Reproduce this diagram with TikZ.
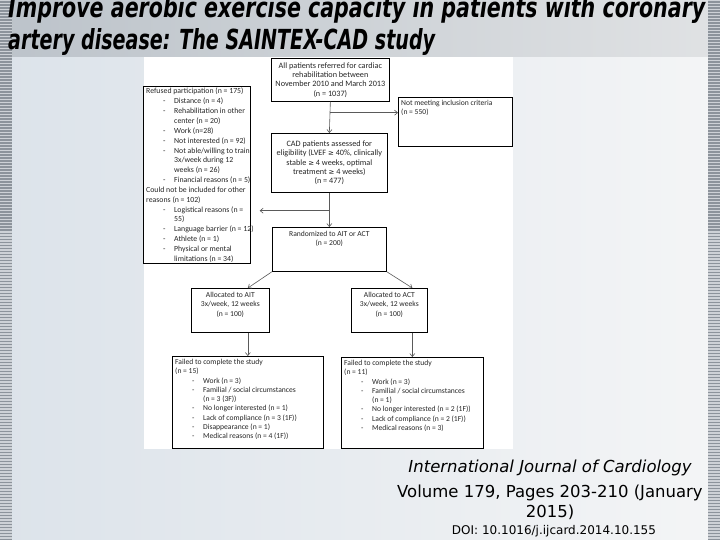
\documentclass[tikz,border=0pt]{standalone}
\usepackage{graphicx}
\usepackage{fontspec}
\setmainfont{Carlito}
\newfontfamily\titlefont{DejaVu Sans}
\newfontfamily\slidefont{DejaVu Sans}
\newfontfamily\symfont{DejaVu Sans}
\usetikzlibrary{arrows.meta}
\definecolor{bgA}{HTML}{DCE3EA}
\definecolor{bgB}{HTML}{F4F5F6}
\definecolor{topA}{HTML}{BCC3CA}
\definecolor{topB}{HTML}{F0F1F2}
\definecolor{topC}{HTML}{E0E2E4}
\definecolor{stripeD}{HTML}{8C939B}
\definecolor{stripeL}{HTML}{CDD1D6}
\definecolor{txt}{HTML}{262626}
\definecolor{arrc}{HTML}{5A5A5A}
\newcommand\itm{\makebox[28pt][l]{\hspace*{17pt}-}}
\newcommand\cnt{\hspace*{28pt}}
\newcommand\geqsym{{\symfont\scalebox{0.85}{≥}}}
\begin{document}
\begin{tikzpicture}[x=1pt,y=-1pt,
  box/.style={draw=black, line width=0.7pt, fill=white, inner sep=0pt, anchor=north west},
  ftext/.style={font=\fontsize{7.6}{9.3}\selectfont, text=txt, inner sep=0pt},
  bigtext/.style={font=\fontsize{8.2}{9.4}\selectfont},
  arr/.style={draw=arrc, line width=0.6pt, -{Straight Barb[length=3pt,width=5pt]}},
  slide/.style={inner sep=0pt, anchor=base, text=black}]
\useasboundingbox (0,0) rectangle (720,540);
\clip (0,0) rectangle (720,540);
% background
\shade[left color=bgA, right color=bgB] (0,0) rectangle (720,540);
\shade[left color=topA, middle color=topB, right color=topC] (0,0) rectangle (720,57);
\fill[stripeD] (0,0) rectangle (12,540);
\fill[stripeD] (708,0) rectangle (720,540);
\foreach \y in {0,3,...,540} {
  \fill[stripeL] (0,\y) rectangle (12,\y+1.5);
  \fill[stripeL] (708,\y) rectangle (720,\y+1.5);
}
% title
\node[anchor=base west, inner sep=0pt] (t1) at (8,18)
  {\resizebox{697pt}{21pt}{\titlefont\bfseries\itshape Improve aerobic exercise capacity in patients with coronary}};
\node[anchor=base west, inner sep=0pt] (t2) at (8,50)
  {\resizebox{427pt}{21pt}{\titlefont\bfseries\itshape artery disease: The SAINTEX-CAD study}};
% white panel
\fill[white] (144,57) rectangle (513,449);
% boxes
\node[box, minimum width=118pt, minimum height=43pt] (top) at (271,58) {};
\node[box, minimum width=114pt, minimum height=49pt] (notmeet) at (398,97) {};
\node[box, minimum width=116pt, minimum height=59pt] (cad) at (271,133) {};
\node[box, minimum width=107pt, minimum height=177pt] (refused) at (143,86) {};
\node[box, minimum width=114pt, minimum height=44pt] (rand) at (272,227) {};
\node[box, minimum width=78pt, minimum height=44pt] (ait) at (191,288) {};
\node[box, minimum width=76pt, minimum height=44pt] (act) at (351,288) {};
\node[box, minimum width=151pt, minimum height=92pt] (failait) at (172,356) {};
\node[box, minimum width=142pt, minimum height=91pt] (failact) at (341,357) {};
% texts
\node[ftext, bigtext, align=center] (toptxt) at (top.center) {All patients referred for cardiac\\rehabilitation between\\November 2010 and March 2013\\(n = 1037)};
\node[ftext, align=left, anchor=north west] (nmtxt) at (401,100) {Not meeting inclusion criteria\\(n = 550)};
\node[ftext, bigtext, align=center] (cadtxt) at (cad.center) {CAD patients assessed for\\eligibility (LVEF \geqsym{} 40\%, clinically\\stable \geqsym{} 4 weeks, optimal\\treatment \geqsym{} 4 weeks)\\(n = 477)};
\node[ftext, font=\fontsize{7.8}{9.85}\selectfont, align=left, anchor=north west] (reftxt) at (146,88)
 {Refused participation (n = 175)\\
  \itm Distance (n = 4)\\
  \itm Rehabilitation in other\\
  \cnt center (n = 20)\\
  \itm Work (n=28)\\
  \itm Not interested (n = 92)\\
  \itm Not able/willing to train\\
  \cnt 3x/week during 12\\
  \cnt weeks (n = 26)\\
  \itm Financial reasons (n = 5)\\
  Could not be included for other\\
  reasons (n = 102)\\
  \itm Logistical reasons (n =\\
  \cnt 55)\\
  \itm Language barrier (n = 12)\\
  \itm Athlete (n = 1)\\
  \itm Physical or mental\\
  \cnt limitations (n = 34)};
\node[ftext, align=center, anchor=north] (randtxt) at ([yshift=-4pt]rand.north) {Randomized to AIT or ACT\\(n = 200)};
\node[ftext, align=center, anchor=north] (aittxt) at ([yshift=-4pt]ait.north) {Allocated to AIT\\3x/week, 12 weeks\\(n = 100)};
\node[ftext, align=center, anchor=north] (acttxt) at ([yshift=-4pt]act.north) {Allocated to ACT\\3x/week, 12 weeks\\(n = 100)};
\node[ftext, align=left, anchor=north west] (faittxt) at (175,359)
 {Failed to complete the study\\
  (n = 15)\\
  \itm Work (n = 3)\\
  \itm Familial / social circumstances\\
  \cnt (n = 3 (3F))\\
  \itm No longer interested (n = 1)\\
  \itm Lack of compliance (n = 3 (1F))\\
  \itm Disappearance (n = 1)\\
  \itm Medical reasons (n = 4 (1F))};
\node[ftext, align=left, anchor=north west] (facttxt) at (344,360)
 {Failed to complete the study\\
  (n = 11)\\
  \itm Work (n = 3)\\
  \itm Familial / social circumstances\\
  \cnt (n = 1)\\
  \itm No longer interested (n = 2 (1F))\\
  \itm Lack of compliance (n = 2 (1F))\\
  \itm Medical reasons (n = 3)};
% connectors
\path (top.south) ++(0,11) coordinate (b1);
\path (cad.south) ++(0,18) coordinate (b2);
\draw[arr] (top.south) -- (cad.north);
\draw[arr] (b1) -- (b1 -| notmeet.west);
\draw[arr] (cad.south) -- (rand.north);
\draw[arr, shorten >=9pt] (b2) -- (b2 -| refused.east);
\draw[arr] (rand.south west) -- (failait.north |- ait.north);
\draw[arr] (rand.south east) -- (failact.north |- act.north);
\draw[arr] (failait.north |- ait.south) -- (failait.north);
\draw[arr] (failact.north |- act.south) -- (failact.north);
% citation
\node[slide, font=\slidefont\fontsize{16.5}{20}\selectfont\itshape] (j1) at (550,472) {International Journal of Cardiology};
\node[slide, font=\slidefont\fontsize{16.5}{20}\selectfont] (j2) at (550,497) {Volume 179, Pages 203-210 (January};
\node[slide, font=\slidefont\fontsize{16.5}{20}\selectfont] (j3) at (550,517) {2015)};
\node[slide, font=\slidefont\fontsize{12}{14}\selectfont] (j4) at (554,534) {DOI: 10.1016/j.ijcard.2014.10.155};
\end{tikzpicture}
\end{document}
